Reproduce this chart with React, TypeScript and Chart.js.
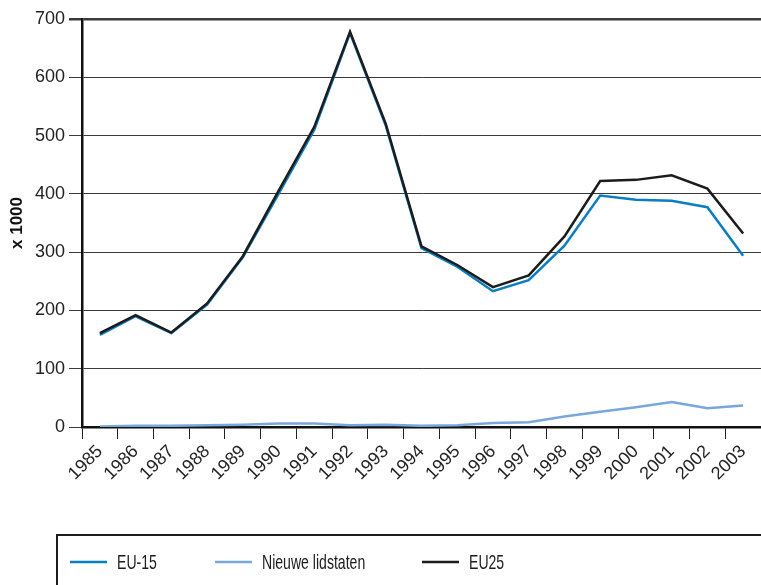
import React, { useEffect, useRef } from "react";
import { Chart, registerables } from "chart.js";

Chart.register(...registerables);

const years = ["1985", "1986", "1987", "1988", "1989", "1990", "1991", "1992", "1993", "1994", "1995", "1996", "1997", "1998", "1999", "2000", "2001", "2002", "2003"];
const eu15 = [158, 190, 161, 210, 291, 400, 510, 676, 517, 307, 275, 233, 252, 311, 397, 390, 388, 377, 294];
const nieuweLidstaten = [1, 2, 2, 3, 4, 6, 6, 3, 4, 2, 3, 7, 8, 18, 26, 34, 43, 32, 37];
const eu25 = [161, 192, 162, 212, 293, 405, 515, 678, 520, 310, 278, 240, 260, 327, 422, 424, 432, 409, 332];
const seriesLabels = ["EU-15", "Nieuwe lidstaten", "EU25"];
const yMin = 0;
const yMax = 700;
const yStep = 100;
const yTitle = "x 1000";

const COLORS = ["#0b7dc3", "#79a7dc", "#1c1c1c"];

const boxLegend = {
  id: "boxLegend",
  afterDraw(chart: any) {
    const ctx = chart.ctx as CanvasRenderingContext2D;
    ctx.save();
    ctx.strokeStyle = "#1c1c1c";
    ctx.lineWidth = 2;
    ctx.beginPath();
    ctx.moveTo(57, 590);
    ctx.lineTo(57, 535);
    ctx.lineTo(770, 535);
    ctx.stroke();
    const xs = [70, 215, 422];
    const y = 562;
    chart.data.datasets.forEach((ds: any, i: number) => {
      const x = xs[i];
      ctx.strokeStyle = ds.borderColor;
      ctx.lineWidth = 2.5;
      ctx.beginPath();
      ctx.moveTo(x, y);
      ctx.lineTo(x + 37, y);
      ctx.stroke();
      ctx.save();
      ctx.translate(x + 47, y);
      ctx.scale(0.67, 1);
      ctx.fillStyle = "#1c1c1c";
      ctx.font = '21px "Liberation Sans", Arial, sans-serif';
      ctx.textBaseline = "middle";
      ctx.textAlign = "left";
      ctx.fillText(ds.label, 0, 1);
      ctx.restore();
    });
    ctx.restore();
  },
};

export default function App() {
  const ref = useRef<HTMLCanvasElement | null>(null);

  useEffect(() => {
    document.body.style.margin = "0";
    const canvas = ref.current;
    if (!canvas) return;
    const chart = new Chart(canvas, {
      type: "line",
      data: {
        labels: years,
        datasets: [
          { label: seriesLabels[0], data: eu15, borderColor: COLORS[0], backgroundColor: COLORS[0], order: 1 },
          { label: seriesLabels[1], data: nieuweLidstaten, borderColor: COLORS[1], backgroundColor: COLORS[1], order: 2 },
          { label: seriesLabels[2], data: eu25, borderColor: COLORS[2], backgroundColor: COLORS[2], order: 0 },
        ],
      },
      options: {
        responsive: false,
        animation: false,
        devicePixelRatio: 1,
        layout: { padding: { top: 19, left: 0, right: 0, bottom: 0 } },
        elements: {
          line: { borderWidth: 2.5, tension: 0 },
          point: { radius: 0, hoverRadius: 0 },
        },
        plugins: {
          legend: { display: false },
          tooltip: { enabled: false },
        },
        scales: {
          x: {
            type: "category",
            offset: true,
            border: { display: true, color: "#111", width: 2.5 },
            grid: {
              offset: true,
              drawOnChartArea: false,
              drawTicks: true,
              tickLength: 12,
              color: "#222",
              lineWidth: 1,
            },
            ticks: {
              color: "#222",
              font: { family: '"Liberation Sans", Arial, sans-serif', size: 18 },
              minRotation: 45,
              maxRotation: 45,
              autoSkip: false,
              padding: 2,
            },
            afterFit(scale: any) {
              scale.height = 158;
              scale.paddingLeft = 0;
              scale.paddingRight = 0;
            },
          },
          y: {
            min: yMin,
            max: yMax,
            border: { display: true, color: "#111", width: 2.5 },
            grid: {
              color: "#3a3a3a",
              lineWidth: (c: any) => (c.tick && c.tick.value === yMax ? 2.5 : 1),
              tickLength: 13,
            },
            ticks: {
              stepSize: yStep,
              color: "#222",
              font: { family: '"Liberation Sans", Arial, sans-serif', size: 18 },
              padding: 4,
            },
            title: {
              display: true,
              text: yTitle,
              color: "#111",
              font: { family: '"Liberation Sans", Arial, sans-serif', size: 17, weight: "bold" },
              padding: { top: 7, bottom: 0 },
            },
            afterFit(scale: any) {
              scale.width = 82;
              scale.paddingTop = 0;
              scale.paddingBottom = 0;
            },
          },
        },
      },
      plugins: [boxLegend],
    });
    return () => chart.destroy();
  }, []);

  return (
    <div style={{ position: "absolute", left: 0, top: 0, width: 761, height: 585, background: "#fff" }}>
      <canvas ref={ref} width={761} height={585} />
    </div>
  );
}
